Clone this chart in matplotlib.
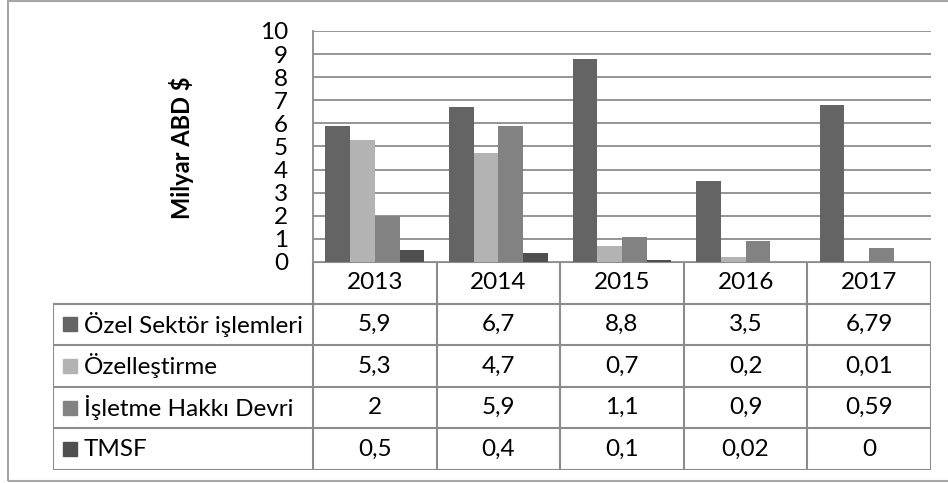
import matplotlib.pyplot as plt
from matplotlib.patches import Rectangle

years = ['2013', '2014', '2015', '2016', '2017']
series = ['Özel Sektör işlemleri', 'Özelleştirme', 'İşletme Hakkı Devri', 'TMSF']
ozel_sektor = [5.9, 6.7, 8.8, 3.5, 6.79]
ozellestirme = [5.3, 4.7, 0.7, 0.2, 0.01]
isletme_hakki = [2, 5.9, 1.1, 0.9, 0.59]
tmsf = [0.5, 0.4, 0.1, 0.02, 0]
values = [ozel_sektor, ozellestirme, isletme_hakki, tmsf]
colors = ['#646464', '#b3b3b3', '#828282', '#4f4f4f']

plt.rcParams['font.family'] = ['Lato', 'DejaVu Sans']
W, H = 948, 483
grid_c = '#8c8c8c'
fs = 17.5

fig = plt.figure(figsize=(W / 100, H / 100), dpi=100)

def box(x0, y0, x1, y1):
    # pixel box (top-left origin) -> figure fraction rect
    return [x0 / W, 1 - y1 / H, (x1 - x0) / W, (y1 - y0) / H]

# outer frame, open on the right
fig.patches.append(Rectangle((8 / W, 1 - 481 / H), 1.2, (481 - 1) / H, transform=fig.transFigure,
                             fill=False, edgecolor='#a6a6a6', linewidth=1.5))

ax = fig.add_axes(box(313, 31, 931, 262))
n = len(years)
bw = 0.2
for i, (name, vals) in enumerate(zip(series, values)):
    xs = [k + 0.1 + bw * i for k in range(n)]
    ax.bar(xs, vals, width=bw, align='edge', color=colors[i], linewidth=0, zorder=3)
ax.set_xlim(0, n)
ax.set_ylim(0, 10)
ax.set_yticks(range(0, 11))
ax.set_xticks([])
ax.grid(axis='y', color=grid_c, linewidth=1.3, zorder=1)
for s in ['top', 'right', 'bottom']:
    ax.spines[s].set_visible(False)
ax.spines['left'].set_color(grid_c)
ax.spines['left'].set_linewidth(1.3)
ax.tick_params(axis='y', length=0, pad=18, labelsize=fs)
fig.text(182 / W, 1 - 148 / H, 'Milyar ABD $', rotation=90, ha='center', va='center',
         fontsize=17, fontweight='bold')

# data table under the bars
label_w = (313 - 53) / ((931 - 313) / n)
tab = fig.add_axes(box(53, 262, 931, 470))
tab.set_xlim(-label_w, n)
tab.set_ylim(len(series) + 1, 0)
tab.axis('off')
lk = dict(color=grid_c, linewidth=1.5, solid_capstyle='projecting')
tab.plot([0, n], [0, 0], **lk)
for r in range(1, len(series) + 2):
    tab.plot([-label_w, n], [r, r], **lk)
for c in range(n + 1):
    tab.plot([c, c], [0, len(series) + 1], **lk)
tab.plot([-label_w, -label_w], [1, len(series) + 1], **lk)

for c, yr in enumerate(years):
    tab.text(c + 0.5, 0.5, yr, ha='center', va='center', fontsize=fs)

px = (931 - 313) / n
for r, (name, vals) in enumerate(zip(series, values)):
    y = r + 1.5
    tab.plot(-label_w + (70 - 53) / px, y, marker='s', markersize=10.5, color=colors[r],
             linestyle='none')
    tab.text(-label_w + (84 - 53) / px, y, name, ha='left', va='center', fontsize=fs)
    for c, v in enumerate(vals):
        tab.text(c + 0.5, y, f'{v:g}'.replace('.', ','), ha='center', va='center', fontsize=fs)

fig.savefig('out.png', dpi=100)
